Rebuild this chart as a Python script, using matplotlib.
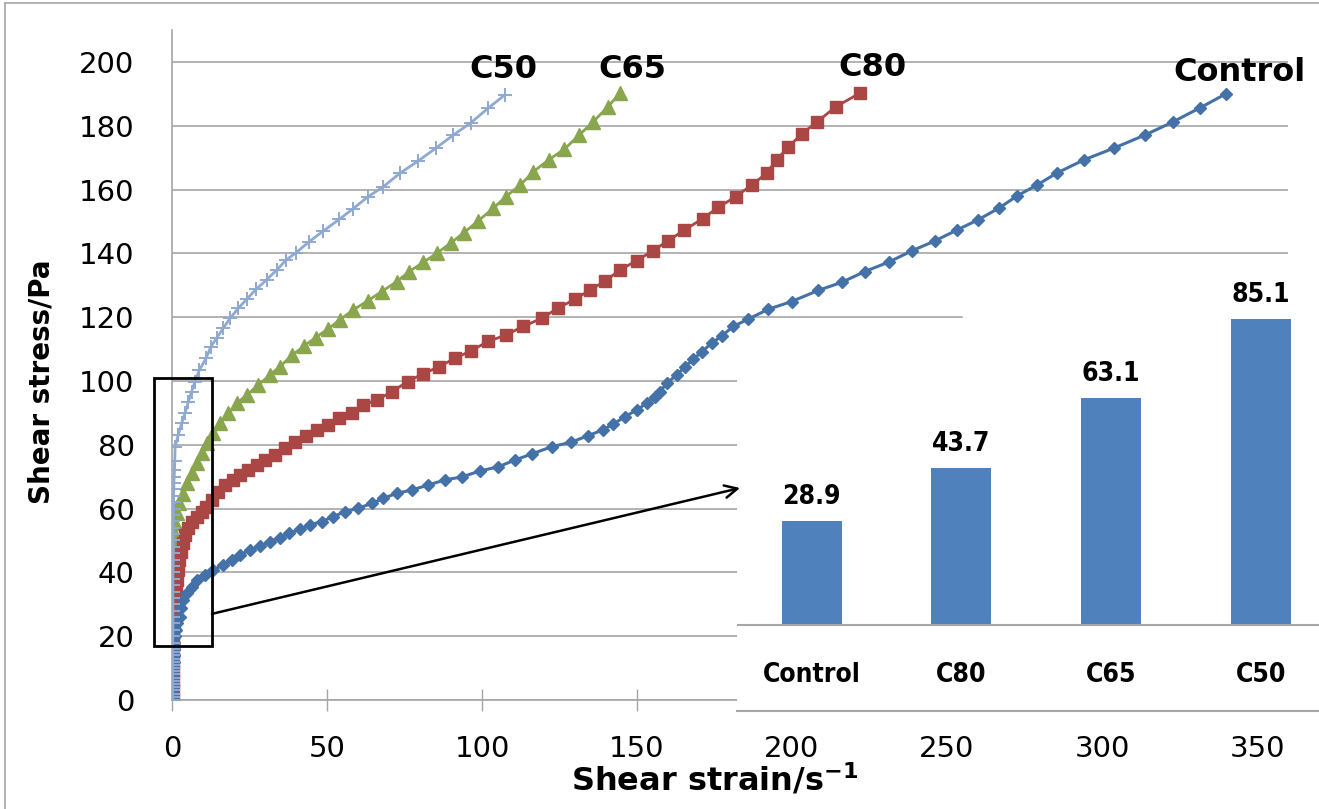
import matplotlib
matplotlib.use("Agg")
import matplotlib.pyplot as plt
from matplotlib.patches import Rectangle
from matplotlib.lines import Line2D

# flow curves (shear strain in 1/s, shear stress in Pa)
control_x = [0.3, 0.3, 0.3, 0.4, 0.4, 0.4, 0.5, 0.5, 0.6, 0.7, 0.9, 1.2, 1.6,
             2.6, 2.9, 3.6, 4.7, 6.4, 8.0, 10.5, 13.3, 16.5, 19.3, 21.9, 25.2,
             28.4, 31.6, 34.8, 37.8, 41.3, 44.5, 48.3, 52.0, 55.8, 60.1, 64.4,
             68.2, 72.5, 77.3, 82.7, 88.1, 93.4, 99.4, 105.3, 110.6, 116.0,
             122.5, 128.8, 134.3, 138.9, 142.4, 146.1, 149.9, 153.1, 155.8,
             157.4, 159.6, 162.8, 165.5, 168.2, 170.9, 174.1, 177.3, 181.1,
             185.9, 192.4, 199.9, 208.5, 216.0, 223.5, 231.3, 238.7, 246.1,
             253.2, 260.0, 266.8, 272.6, 279.0, 285.5, 294.2, 303.9, 313.9,
             322.9, 331.6, 340.0]
control_y = [0, 2, 4, 6, 8, 10, 12, 14, 16, 18, 20, 22, 24,
             26.1, 28.7, 31.3, 33.4, 35.5, 37.6, 39.2, 40.8, 42.3, 43.9, 45.5, 47.0,
             48.3, 49.6, 50.9, 52.2, 53.5, 54.9, 55.9, 57.5, 59.0, 60.1, 61.6,
             63.2, 64.8, 65.8, 67.4, 69.0, 69.9, 71.8, 73.1, 75.2, 77.1,
             79.4, 80.8, 82.9, 84.6, 86.5, 88.8, 90.9, 93.0, 95.1,
             96.6, 99.3, 101.9, 104.5, 106.8, 109.2, 111.8, 114.1, 117.1,
             119.4, 122.5, 124.9, 128.4, 130.9, 134.3, 137.3, 140.8, 143.9,
             147.3, 150.5, 154.2, 158.0, 161.4, 165.2, 169.3, 173.0, 177.1,
             181.2, 185.6, 190.0]

c80_x = [0.2, 0.2, 0.2, 0.3, 0.3, 0.3, 0.4, 0.4, 0.5, 0.6, 0.7, 0.9, 1.2,
         1.5, 2.0, 2.4, 2.8, 3.5, 4.2, 5.3, 6.4, 8.0, 9.6, 11.1, 12.8, 14.9,
         17.1, 19.6, 21.9, 24.6, 27.3, 30.0, 33.2, 36.5, 39.7, 43.2, 46.7,
         50.4, 54.0, 58.0, 61.7, 66.0, 70.9, 76.0, 80.9, 86.2, 91.3, 96.5,
         102.0, 107.7, 113.3, 119.2, 124.6, 130.0, 134.8, 139.7, 144.5, 149.9,
         155.1, 160.1, 165.3, 171.2, 176.2, 181.9, 187.0, 191.8, 195.0, 198.8,
         203.1, 208.2, 214.2, 221.9]
c80_y = [0, 3, 6, 9, 12, 15, 18, 21, 24, 27, 30, 33, 35.5,
         37.6, 40.8, 43.9, 46.5, 49.1, 51.7, 53.8, 55.9, 57.5, 59.0, 60.6, 62.8, 65.3,
         67.4, 69.0, 70.5, 72.1, 73.7, 75.2, 76.8, 78.9, 81.0, 82.6, 84.6,
         86.2, 88.3, 89.8, 92.5, 94.0, 96.6, 99.8, 102.2, 104.5, 107.1, 109.5,
         112.4, 114.4, 117.1, 119.6, 122.9, 125.6, 128.5, 131.3, 134.8, 137.7,
         140.8, 144.0, 147.3, 150.9, 154.4, 157.8, 161.4, 165.1, 169.3, 173.3,
         177.4, 181.3, 186.0, 190.2]

c65_x = [0.0, 0.1, 0.1, 0.1, 0.1, 0.1, 0.1, 0.1, 0.2, 0.2, 0.2, 0.2, 0.2,
         0.3, 0.3, 0.3, 0.3, 0.3, 0.4, 0.4, 0.4, 0.4, 0.5, 0.5, 0.6, 0.7, 0.8,
         1.0, 1.5, 2.4, 3.5, 4.7, 6.4, 8.0, 9.6, 11.2, 13.3, 15.5, 18.2, 20.9,
         24.1, 27.8, 31.6, 34.8, 38.8, 42.7, 46.3, 50.2, 54.2, 58.5, 63.3, 67.6,
         72.5, 76.5, 81.1, 85.4, 90.0, 94.2, 98.8, 103.6, 107.7, 112.3, 116.6,
         121.5, 126.5, 131.4, 135.9, 140.7, 144.5]
c65_y = [0, 2, 4, 6, 8, 10, 12, 14, 16, 18, 20, 22, 24,
         26, 28, 30, 32, 34, 36, 38, 40, 42, 44, 46, 48, 50, 52.5,
         55.4, 58.5, 61.6, 64.7, 67.9, 71.1, 74.2, 77.4, 80.5, 83.6, 86.7, 89.8, 93.0,
         95.6, 98.7, 101.9, 104.5, 108.1, 111.0, 113.6, 116.2, 119.2, 122.3, 125.2, 128.0,
         131.1, 134.3, 137.2, 140.0, 143.3, 146.5, 150.2, 154.1, 157.8, 161.4, 165.6,
         169.3, 172.6, 177.1, 181.3, 186.0, 190.2]

c50_x = [0.2, 0.2, 0.2, 0.2, 0.2, 0.2, 0.2, 0.2, 0.2, 0.2, 0.2, 0.2, 0.2,
         0.2, 0.2, 0.2, 0.2, 0.2, 0.2, 0.3, 0.3, 0.3, 0.3, 0.3, 0.3, 0.3, 0.3,
         0.3, 0.3, 0.3, 0.4, 0.4, 0.4, 0.4, 0.4, 0.4, 0.4, 0.4, 0.4, 0.5, 0.5,
         0.5, 0.6, 0.6, 0.7, 0.8, 0.9,
         1.0, 2.0, 3.1, 4.2, 5.3, 6.3, 7.4, 8.8, 11.0, 12.5, 14.4, 16.5, 18.7,
         21.4, 24.1, 27.1, 30.5, 33.8, 36.8, 40.0, 44.3, 48.8, 54.0, 58.3, 63.3,
         68.2, 73.5, 79.5, 85.0, 90.8, 96.5, 102.0, 107.4]
c50_y = [0, 1, 2, 3, 4, 5, 6, 7, 8, 9, 10, 11, 12,
         13, 14, 15, 16, 17, 18, 20, 22, 24, 26, 28, 30, 32, 34,
         36, 38, 40, 42, 44, 46, 48, 50, 52, 54, 56, 58, 60, 62,
         64, 66, 68, 70, 72, 75,
         79.4, 83.0, 86.7, 89.9, 93.5, 96.6, 99.8, 103.4, 107.1, 110.7, 113.4, 116.5, 119.6,
         122.8, 125.6, 128.7, 131.7, 134.8, 137.9, 140.2, 143.7, 147.0, 150.7, 153.9, 157.8,
         160.9, 165.1, 169.0, 172.9, 177.1, 181.0, 185.5, 189.7]

# yield stress bars of the inset
bar_names = ["Control", "C80", "C65", "C50"]
bar_values = [28.9, 43.7, 63.1, 85.1]

W, H = 1319, 809
GRID = "#a6a6a6"


def fx(px):
    return px / W


def fy(py):
    return 1 - py / H


fig = plt.figure(figsize=(W / 100, H / 100), dpi=100)
ax = fig.add_axes([fx(172), fy(700), fx(1288) - fx(172), fy(30) - fy(700)])

ax.plot(control_x, control_y, color="#4472a8", lw=2.2, marker="D", ms=6.5, zorder=4)
ax.plot(c80_x, c80_y, color="#aa4643", lw=2.0, marker="s", ms=9, zorder=3)
ax.plot(c65_x, c65_y, color="#89a54e", lw=2.0, marker="^", ms=9.5, zorder=2)
ax.plot(c50_x, c50_y, color="#8fa9d1", lw=2.0, marker="+", ms=10, mew=1.4, zorder=5)

ax.set_xlim(0, 360)
ax.set_ylim(0, 210)
ax.set_xticks(range(0, 351, 50))
ax.set_yticks(range(0, 201, 20))
ax.tick_params(axis="x", direction="inout", length=16, width=1, color=GRID,
               pad=17, labelsize=21)
ax.tick_params(axis="y", length=0, pad=27, labelsize=21)
for s in ["top", "right"]:
    ax.spines[s].set_visible(False)
for s in ["left", "bottom"]:
    ax.spines[s].set_color(GRID)
    ax.spines[s].set_linewidth(1.2)
ax.yaxis.grid(True, color=GRID, lw=1.2)
ax.set_axisbelow(True)

for name, x, y in [("C50", 106.8, 197.5), ("C65", 148.4, 197.5),
                   ("C80", 226.1, 198.1), ("Control", 344.5, 196.8)]:
    ax.text(x, y, name, ha="center", va="center", fontsize=23, fontweight="bold")

# zoom box around the yield region
ax.add_patch(Rectangle((-5.8, 17.0), 18.7, 84.0, fill=False, ec="black", lw=2,
                       clip_on=False, zorder=6))

fig.text(fx(42), fy(382), "Shear stress/Pa", rotation=90, ha="center",
         va="center", fontsize=20, fontweight="bold")
fig.text(fx(715), fy(780), r"Shear strain/s$^{\mathbf{-1}}$", ha="center",
         va="center", fontsize=23, fontweight="bold")

# white patch that hides part of the 120 grid line behind the inset
fig.add_artist(Rectangle((fx(963), fy(342)), fx(1319) - fx(963), fy(300) - fy(342),
                         transform=fig.transFigure, color="white", zorder=1))

# inset bar chart
inset = fig.add_axes([fx(737), fy(711), fx(1319) - fx(737), fy(340) - fy(711)])
inset.set_zorder(2)
pos = list(range(len(bar_names)))
inset.bar(pos, bar_values, width=0.4, color="#4f81bd", clip_on=False)
inset.set_xlim(-0.5, 3.39)
inset.set_ylim(-23.9, 79.2)
inset.axhline(0, color=GRID, lw=1.5)
for s in ["top", "right", "left"]:
    inset.spines[s].set_visible(False)
inset.spines["bottom"].set_color(GRID)
inset.spines["bottom"].set_linewidth(1.5)
inset.set_xticks([])
inset.set_yticks([])
for p, name, v in zip(pos, bar_names, bar_values):
    inset.text(p, -13.9, name, ha="center", va="center", fontsize=19,
               fontweight="bold", fontstretch="condensed")
    inset.text(p, v + 6.7, f"{v:.1f}", ha="center", va="center", fontsize=19,
               fontweight="bold", fontstretch="condensed", clip_on=False)

inset.annotate("", xy=(740, H - 488), xycoords="figure pixels",
               xytext=(12.9, 27.0), textcoords=ax.transData,
               arrowprops=dict(arrowstyle="->,head_length=0.9,head_width=0.45",
                               color="black", lw=1.8, shrinkA=0, shrinkB=0),
               annotation_clip=False)

# outer frame of the original figure (left and top edges only)
fig.add_artist(Line2D([fx(5), fx(5)], [0, fy(3)], color=GRID, lw=1.2,
                      transform=fig.transFigure))
fig.add_artist(Line2D([fx(5), 1], [fy(3), fy(3)], color=GRID, lw=1.2,
                      transform=fig.transFigure))

fig.savefig("out.png", dpi=100)
